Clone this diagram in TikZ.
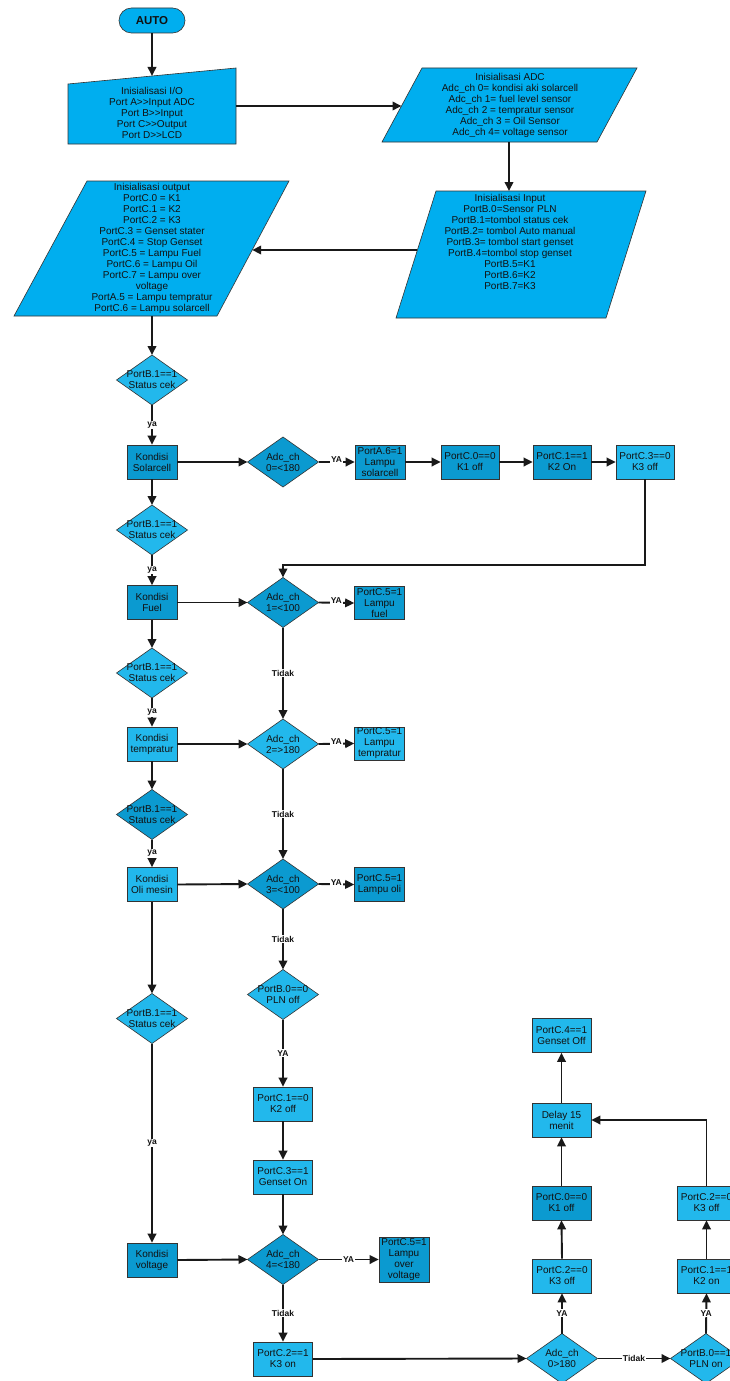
\documentclass[tikz,border=0pt]{standalone}
\usepackage{fontspec}
\setmainfont{Liberation Sans}
\usetikzlibrary{arrows.meta,shapes.geometric}
\definecolor{topfill}{HTML}{00AEEF}
\definecolor{lightfill}{HTML}{22B8EC}
\definecolor{darkfill}{HTML}{0B9AD0}
\definecolor{edge}{HTML}{333333}
\definecolor{ink}{HTML}{111111}
\tikzset{
  txt/.style={font=\fontsize{10}{11}\selectfont, text=ink, align=center, inner sep=0pt},
  box/.style={draw=edge, line width=0.6pt, rectangle, minimum width=50pt, minimum height=34pt, txt},
  boxw/.style={box, minimum width=59pt},
  dia/.style={draw=edge, line width=0.6pt, diamond, minimum width=71pt, minimum height=50pt, inner sep=0pt, outer sep=0pt},
  lt/.style={fill=lightfill},
  dk/.style={fill=darkfill},
  shp/.style={draw=edge, line width=0.6pt, fill=topfill},
  arr/.style={draw=black!90, line width=1.9pt, -{Triangle[length=9pt,width=8.5pt]}},
  lab/.style={font=\bfseries\fontsize{8.5}{9}\selectfont, fill=white, inner sep=1pt, text=ink},
}
\begin{document}
\begin{tikzpicture}[x=1pt,y=-1pt]
\useasboundingbox[fill=white] (0,0) rectangle (729,1381);

% ---- initialisation blocks ----
\node[draw=edge, line width=0.6pt, fill=topfill, rounded corners=12.5pt, minimum width=66pt,
      minimum height=25pt, inner sep=0pt, text=ink, font=\bfseries\fontsize{11.5}{12}\selectfont]
      (auto) at (152,20.5) {AUTO};

\draw[shp] (68,84) -- (236,68) -- (236,144) -- (68,144) -- cycle;
\coordinate (io-n) at (152,76);
\coordinate (io-e) at (236,106);
\node[txt] (io) at (152,113) {Inisialisasi I/O\\Port A>{}>Input ADC\\Port B>{}>Input\\Port C>{}>Output\\Port D>{}>LCD};

\draw[shp] (422,68) -- (637,68) -- (597,142) -- (382,142) -- cycle;
\coordinate (adc-w) at (401.5,106);
\coordinate (adc-s) at (509,142);
\node[txt] (adcinit) at (510,105) {Inisialisasi ADC\\Adc\_ch 0= kondisi aki solarcell\\Adc\_ch 1= fuel level sensor\\Adc\_ch 2 = tempratur sensor\\Adc\_ch 3 = Oil Sensor\\Adc\_ch 4= voltage sensor};

\draw[shp] (436,191) -- (646,191) -- (606,318) -- (396,318) -- cycle;
\coordinate (in-n) at (509,191);
\coordinate (in-w) at (417.4,250);
\node[txt] (ininit) at (510,242) {Inisialisasi Input\\PortB.0=Sensor PLN\\PortB.1=tombol status cek\\PortB.2= tombol Auto manual\\PortB.3= tombol start genset\\PortB.4=tombol stop genset\\PortB.5=K1\\PortB.6=K2\\PortB.7=K3};

\draw[shp] (87,181) -- (289,181) -- (217,316) -- (14,316) -- cycle;
\coordinate (out-e) at (252.2,250);
\coordinate (out-s) at (152,316);
\node[txt] (outinit) at (152,248) {Inisialisasi output\\PortC.0 = K1\\PortC.1 = K2\\PortC.2 = K3\\PortC.3 = Genset stater\\PortC.4 = Stop Genset\\PortC.5 = Lampu Fuel\\PortC.6 = Lampu Oil\\PortC.7 = Lampu over\\voltage\\PortA.5 = Lampu tempratur\\PortC.6 = Lampu solarcell};

% ---- left column: status checks and conditions ----
\node[dia, lt] (d1) at (152,380) {};
\node[txt] (d1t) at (d1) {PortB.1==1\\Status cek};
\node[box, dk] (solar) at (152,462) {Kondisi\\Solarcell};
\node[dia, lt] (d2) at (152,530) {};
\node[txt] (d2t) at (d2) {PortB.1==1\\Status cek};
\node[box, dk] (fuel) at (152,602.5) {Kondisi\\Fuel};
\node[dia, lt] (d3) at (152,673) {};
\node[txt] (d3t) at (d3) {PortB.1==1\\Status cek};
\node[box, lt] (temp) at (152,744) {Kondisi\\tempratur};
\node[dia, dk] (d4) at (152,814.5) {};
\node[txt] (d4t) at (d4) {PortB.1==1\\Status cek};
\node[box, lt] (oli) at (152,884.5) {Kondisi\\Oli mesin};
\node[dia, lt] (d5) at (152,1018.5) {};
\node[txt] (d5t) at (d5) {PortB.1==1\\Status cek};
\node[box, dk] (volt) at (152,1260) {Kondisi\\voltage};

% ---- middle column: ADC decisions ----
\node[dia, dk] (adc0) at (283,462) {};
\node[txt] (adc0t) at (adc0) {Adc\_ch\\0=<180};
\node[dia, dk] (adc1) at (283,602.5) {};
\node[txt] (adc1t) at (adc1) {Adc\_ch\\1=<100};
\node[dia, lt] (adc2) at (283,744) {};
\node[txt] (adc2t) at (adc2) {Adc\_ch\\2=>180};
\node[dia, dk] (adc3) at (283,884) {};
\node[txt] (adc3t) at (adc3) {Adc\_ch\\3=<100};
\node[dia, lt] (plnoff) at (283,994.5) {};
\node[txt] (plnofft) at (plnoff) {PortB.0==0\\PLN off};
\node[boxw, lt] (k2off) at (283,1104) {PortC.1==0\\K2 off};
\node[boxw, lt] (gon) at (283,1177) {PortC.3==1\\Genset On};
\node[dia, dk] (adc4) at (283,1259.5) {};
\node[txt] (adc4t) at (adc4) {Adc\_ch\\4=<180};
\node[boxw, lt] (k3on) at (283,1359) {PortC.2==1\\K3 on};

% ---- lamps ----
\node[box, dk] (lsol) at (380,462) {PortA.6=1\\Lampu\\solarcell};
\node[box, dk, minimum height=33pt] (lfuel) at (379.5,603) {PortC.5=1\\Lampu\\fuel};
\node[box, lt, minimum height=33pt] (ltemp) at (379.5,743.5) {PortC.5=1\\Lampu\\tempratur};
\node[box, dk] (loli) at (379.5,884.5) {PortC.5=1\\Lampu oli};
\node[box, dk, minimum height=45pt] (lvolt) at (404,1259.5) {PortC.5=1\\Lampu\\over\\voltage};

% ---- solarcell relay sequence ----
\node[boxw, dk, minimum width=58pt] (k1offa) at (470,462) {PortC.0==0\\K1 off};
\node[boxw, dk, minimum width=58pt] (k2ona) at (562,462) {PortC.1==1\\K2 On};
\node[boxw, lt, minimum width=58pt] (k3offa) at (645,462) {PortC.3==0\\K3 off};
\coordinate (loop) at (283,565);

% ---- genset shutdown branch ----
\node[boxw, lt] (goff) at (561.5,1035.5) {PortC.4==1\\Genset Off};
\node[boxw, lt] (delay) at (561.5,1120) {Delay 15\\menit};
\node[boxw, dk] (k1offb) at (561.5,1203) {PortC.0==0\\K1 off};
\node[boxw, lt] (k3offb) at (562,1276) {PortC.2==0\\K3 off};
\node[dia, lt] (adc5) at (562,1358.5) {};
\node[txt] (adc5t) at (adc5) {Adc\_ch\\0>180};

\node[boxw, lt] (k3offc) at (706.5,1203) {PortC.2==0\\K3 off};
\node[boxw, lt] (k2onc) at (706.5,1276) {PortC.1==1\\K2 on};
\node[dia, lt] (plnon) at (706,1358.5) {};
\node[txt] (plnont) at (plnon) {PortB.0==1\\PLN on};

% ---- connectors ----
\draw[arr] (auto.south) -- (io-n);
\draw[arr] (io-e) -- (adc-w);
\draw[arr] (adc-s) -- (in-n);
\draw[arr] (in-w) -- (out-e);
\draw[arr] (out-s) -- (d1.north);

\draw[arr] (d1.south) -- node[lab] {ya} (solar.north);
\draw[arr] (solar.east) -- (adc0.west);
\draw[arr] (adc0.east) -- node[lab, yshift=2pt] {YA} (lsol.west);
\draw[arr] (lsol.east) -- (k1offa.west);
\draw[arr] (k1offa.east) -- (k2ona.west);
\draw[arr] (k2ona.east) -- (k3offa.west);
\draw[arr] (k3offa.south) |- (loop) -- (adc1.north);

\draw[arr] (solar.south) -- (d2.north);
\draw[arr] (d2.south) -- node[lab] {ya} (fuel.north);
\draw[arr] (fuel.east) -- (adc1.west);
\draw[arr] (adc1.east) -- node[lab, yshift=2pt] {YA} (lfuel.west);
\draw[arr] (fuel.south) -- (d3.north);
\draw[arr] (d3.south) -- node[lab] {ya} (temp.north);
\draw[arr] (temp.east) -- (adc2.west);
\draw[arr] (adc2.east) -- node[lab, yshift=2pt] {YA} (ltemp.west);
\draw[arr] (adc1.south) -- node[lab] {Tidak} (adc2.north);
\draw[arr] (temp.south) -- (d4.north);
\draw[arr] (d4.south) -- node[lab] {ya} (oli.north);
\draw[arr] (oli.east) -- (adc3.west);
\draw[arr] (adc3.east) -- node[lab, yshift=2pt] {YA} (loli.west);
\draw[arr] (adc2.south) -- node[lab] {Tidak} (adc3.north);
\draw[arr] (oli.south) -- (d5.north);
\draw[arr] (d5.south) -- node[lab] {ya} (volt.north);

\draw[arr] (adc3.south) -- node[lab] {Tidak} (plnoff.north);
\draw[arr] (plnoff.south) -- node[lab] {YA} (k2off.north);
\draw[arr] (k2off.south) -- (gon.north);
\draw[arr] (gon.south) -- (adc4.north);
\draw[arr] (volt.east) -- (adc4.west);
\draw[arr] (adc4.east) -- node[lab] {YA} (lvolt.west);
\draw[arr] (adc4.south) -- node[lab] {Tidak} (k3on.north);
\draw[arr] (k3on.east) -- (adc5.west);

\draw[arr] (adc5.north) -- node[lab] {YA} (k3offb.south);
\draw[arr] (k3offb.north) -- (k1offb.south);
\draw[arr] (k1offb.north) -- (delay.south);
\draw[arr] (delay.north) -- (goff.south);
\draw[arr] (adc5.east) -- node[lab] {Tidak} (plnon.west);
\draw[arr] (plnon.north) -- node[lab] {YA} (k2onc.south);
\draw[arr] (k2onc.north) -- (k3offc.south);
\draw[arr] (k3offc.north) |- (delay.east);
\end{tikzpicture}
\end{document}
